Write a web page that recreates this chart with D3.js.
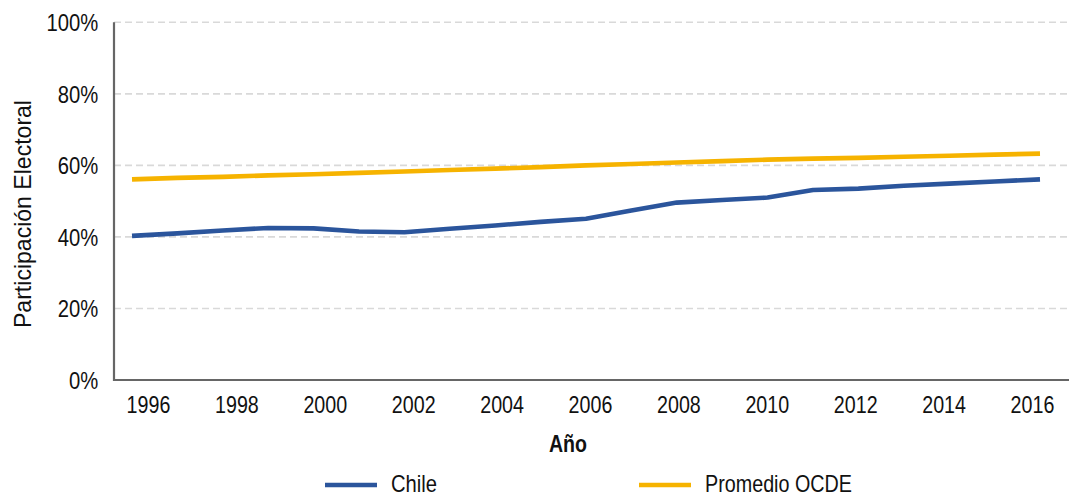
<!DOCTYPE html>
<html>
<head>
<meta charset="utf-8">
<script src="https://cdn.jsdelivr.net/npm/d3@7/dist/d3.min.js"></script>
<style>
  html, body { margin: 0; padding: 0; background: #fff; }
  svg { display: block; }
  text { font-family: "Liberation Sans", Arial, sans-serif; fill: #111; }
</style>
</head>
<body>
<svg id="chart" width="1069" height="498"></svg>
<script>
// Participación electoral, Chile vs. promedio OCDE (1996–2016)
const years = [1996, 1997, 1998, 1999, 2000, 2001, 2002, 2003, 2004, 2005, 2006,
               2007, 2008, 2009, 2010, 2011, 2012, 2013, 2014, 2015, 2016];
const chile = [40.3, 41.0, 41.8, 42.5, 42.4, 41.5, 41.3, 42.3, 43.2, 44.2, 45.1,
               47.4, 49.6, 50.3, 51.0, 53.1, 53.5, 54.3, 54.9, 55.5, 56.1];
const ocde  = [56.1, 56.5, 56.8, 57.2, 57.5, 57.9, 58.3, 58.7, 59.1, 59.5, 60.0,
               60.4, 60.8, 61.2, 61.6, 61.9, 62.1, 62.4, 62.7, 63.0, 63.3];
const yearTicks = [1996, 1998, 2000, 2002, 2004, 2006, 2008, 2010, 2012, 2014, 2016];
const pctTicks = [0, 20, 40, 60, 80, 100];
const seriesNames = ["Chile", "Promedio OCDE"];
const seriesColors = ["#2b559c", "#f6b300"];

const svg = d3.select("#chart");
const plot = { left: 114, right: 1069, top: 22.3, bottom: 380 };

// data positions and label positions use slightly different spans
const x = d3.scaleLinear().domain([1996, 2016]).range([132, 1040]);
const xLabel = d3.scaleLinear().domain([1996, 2016]).range([148, 1032]);
const y = d3.scaleLinear().domain([0, 100]).range([plot.bottom, plot.top]);

// horizontal dashed grid
svg.append("g")
  .selectAll("line")
  .data(pctTicks.filter(d => d > 0))
  .join("line")
  .attr("x1", plot.left).attr("x2", plot.right)
  .attr("y1", d => y(d)).attr("y2", d => y(d))
  .attr("stroke", "#d9d9d9")
  .attr("stroke-width", 1.6)
  .attr("stroke-dasharray", "7,4");

// y axis labels (condensed lettering)
const yAxis = d3.axisLeft(y).tickValues(pctTicks).tickFormat(d => d + "%").tickSize(0).tickPadding(18);
const gy = svg.append("g").attr("transform", `translate(${plot.left},0)`).call(yAxis);
gy.select(".domain").remove();
gy.selectAll("text")
  .attr("font-size", 23).attr("dy", "0.36em")
  .attr("transform", "scale(0.88,1)")
  .style("font-family", '"Liberation Sans", Arial, sans-serif').attr("fill", "#111");

// x axis labels
const xAxis = d3.axisBottom(xLabel).tickValues(yearTicks).tickFormat(d3.format("d")).tickSize(0).tickPadding(16);
const gx = svg.append("g").attr("transform", `translate(0,${plot.bottom})`).call(xAxis);
gx.select(".domain").remove();
gx.selectAll("text")
  .attr("font-size", 24).attr("dy", "0.71em")
  .attr("transform", "scale(0.82,1)")
  .style("font-family", '"Liberation Sans", Arial, sans-serif').attr("fill", "#111");

// axis lines
svg.append("path")
  .attr("d", `M${plot.left},${plot.top}V${plot.bottom}H${plot.right}`)
  .attr("fill", "none").attr("stroke", "#666").attr("stroke-width", 2.2);

// series lines
const line = d3.line().x((d, i) => x(years[i])).y(d => y(d));
[chile, ocde].forEach((vals, i) => {
  svg.append("path")
    .datum(vals)
    .attr("d", line)
    .attr("fill", "none")
    .attr("stroke", seriesColors[i])
    .attr("stroke-width", 4.6)
    .attr("stroke-linejoin", "round");
});

// axis titles
svg.append("text")
  .attr("transform", `translate(31,214) rotate(-90)`)
  .attr("text-anchor", "middle")
  .attr("font-size", 24)
  .attr("textLength", 228)
  .attr("lengthAdjust", "spacingAndGlyphs")
  .text("Participación Electoral");

svg.append("text")
  .attr("x", 568).attr("y", 452)
  .attr("text-anchor", "middle")
  .attr("font-size", 24)
  .attr("font-weight", "bold")
  .attr("textLength", 38)
  .attr("lengthAdjust", "spacingAndGlyphs")
  .text("Año");

// legend
const legendX = [325, 639];
const legendTextWidth = [46, 147];
const legend = svg.append("g");
seriesNames.forEach((name, i) => {
  legend.append("line")
    .attr("x1", legendX[i]).attr("x2", legendX[i] + 52)
    .attr("y1", 485).attr("y2", 485)
    .attr("stroke", seriesColors[i]).attr("stroke-width", 4.6);
  legend.append("text")
    .attr("x", legendX[i] + 66).attr("y", 492)
    .attr("font-size", 24)
    .attr("textLength", legendTextWidth[i])
    .attr("lengthAdjust", "spacingAndGlyphs")
    .text(name);
});
</script>
</body>
</html>
